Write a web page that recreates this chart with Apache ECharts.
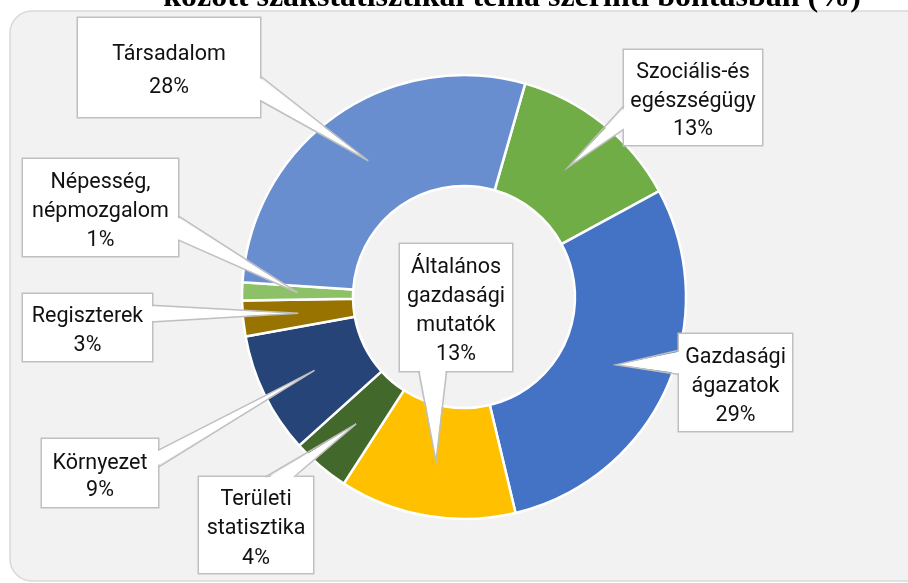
<!DOCTYPE html>
<html>
<head>
<meta charset="utf-8">
<script src="https://cdn.jsdelivr.net/npm/echarts@6/dist/echarts.min.js"></script>
<style>
  html, body { margin: 0; padding: 0; background: #fff; }
  #main { width: 908px; height: 583px; }
</style>
</head>
<body>
<div id="main"></div>
<script>
// adatok (óramutató járásával egyezően, a Szociális szelettől)
const categories = [
  'Szociális-és\negészségügy',
  'Gazdasági\nágazatok',
  'Általános\ngazdasági\nmutatók',
  'Területi\nstatisztika',
  'Környezet',
  'Regiszterek',
  'Népesség,\nnépmozgalom',
  'Társadalom',
];
const values = [12.6, 29.1, 12.8, 4.2, 8.8, 2.6, 1.3, 28.3];
const titleText = 'között szakstatisztikai téma szerinti bontásban (%)';

const colors = ['#70AD47', '#4472C4', '#FFC000', '#43682B', '#264478', '#997300', '#8CC168', '#698ED0'];
// címkedobozok: [x, y, szélesség, magasság, sormagasság]
const boxes = [
  [624, 50, 138, 95, 28.5],
  [679, 334, 113, 97, 29],
  [400, 244, 112, 127, 29],
  [199, 477, 114, 96, 29.5],
  [42, 439, 116, 68, 27],
  [23, 294, 129, 67, 29],
  [23, 159, 155, 97, 29],
  [78, 18, 182, 99, 33],
];

const chart = echarts.init(document.getElementById('main'), null, { renderer: 'canvas' });

const seriesItems = values.map((v, i) => {
  const [, , w, h, lh] = boxes[i];
  const lines = categories[i].split('\n').length + 1;
  const pad = (h - lines * lh) / 2;
  return {
    name: categories[i],
    value: v,
    itemStyle: { color: colors[i] },
    label: { width: w, lineHeight: lh, padding: [pad + 4, 0, pad - 4, 0] },
  };
});

chart.setOption({
  animation: false,
  backgroundColor: '#fff',
  series: [
    {
      type: 'pie',
      z: 2,
      center: [464, 297],
      radius: [111, 222],
      startAngle: 74,
      clockwise: true,
      avoidLabelOverlap: false,
      percentPrecision: 0,
      itemStyle: { borderColor: '#fff', borderWidth: 2.5 },
      label: {
        show: true,
        position: 'outside',
        formatter: '{b}\n{d}%',
        fontFamily: 'Roboto',
        fontSize: 21.5,
        color: '#111',
        backgroundColor: '#fff',
        borderColor: '#BFBFBF',
        borderWidth: 1.5,
        align: 'center',
      },
      labelLine: { show: false },
      labelLayout(params) {
        const b = boxes[params.dataIndex];
        return { x: b[0] + b[2] / 2, y: b[1], align: 'center', verticalAlign: 'top' };
      },
      emphasis: { disabled: true },
      data: seriesItems,
    },
  ],
});

// kiemelő ékek a szeletek közepétől a dobozokig
const pieData = chart.getModel().getSeriesByIndex(0).getData();
const graphics = [
  {
    type: 'rect',
    z: 0,
    shape: { x: 10, y: 11, width: 960, height: 570, r: 22 },
    style: { fill: '#F2F2F2', stroke: '#D9D9D9', lineWidth: 1.5 },
  },
  {
    type: 'text',
    z: 0,
    x: 512,
    y: 14,
    style: {
      text: titleText,
      font: 'bold 32px "Liberation Serif"',
      fill: '#000',
      align: 'center',
      verticalAlign: 'bottom',
    },
  },
];

boxes.forEach((b, i) => {
  const [x, y, w, h] = b;
  const l = pieData.getItemLayout(i);
  const a = (l.startAngle + l.endAngle) / 2;
  const rm = (l.r + l.r0) / 2;
  const tip = [l.cx + rm * Math.cos(a), l.cy + rm * Math.sin(a)];
  const dx = tip[0] - (x + w / 2);
  const dy = tip[1] - (y + h / 2);
  let p1, p2, q1, q2;
  if (Math.abs(dx) / w > Math.abs(dy) / h) {
    const ex = dx < 0 ? x : x + w;
    const inw = dx < 0 ? 2 : -2;
    const [f1, f2] = dy < 0 ? [2 / 12, 5 / 12] : [7 / 12, 10 / 12];
    p1 = [ex, y + h * f1]; p2 = [ex, y + h * f2];
    q1 = [ex + inw, y + h * f1 + 1]; q2 = [ex + inw, y + h * f2 - 1];
  } else {
    const ey = dy < 0 ? y : y + h;
    const inw = dy < 0 ? 2 : -2;
    const [f1, f2] = dx < 0 ? [2 / 12, 5 / 12] : [7 / 12, 10 / 12];
    p1 = [x + w * f1, ey]; p2 = [x + w * f2, ey];
    q1 = [x + w * f1 + 1, ey + inw]; q2 = [x + w * f2 - 1, ey + inw];
  }
  graphics.push({
    type: 'polygon',
    z: 100,
    shape: { points: [q1, tip, q2] },
    style: { fill: '#fff', stroke: null },
  });
  graphics.push({
    type: 'polyline',
    z: 101,
    shape: { points: [p1, tip, p2] },
    style: { stroke: '#BFBFBF', lineWidth: 1.5, fill: null },
  });
});

chart.setOption({ graphic: graphics });
</script>
</body>
</html>
